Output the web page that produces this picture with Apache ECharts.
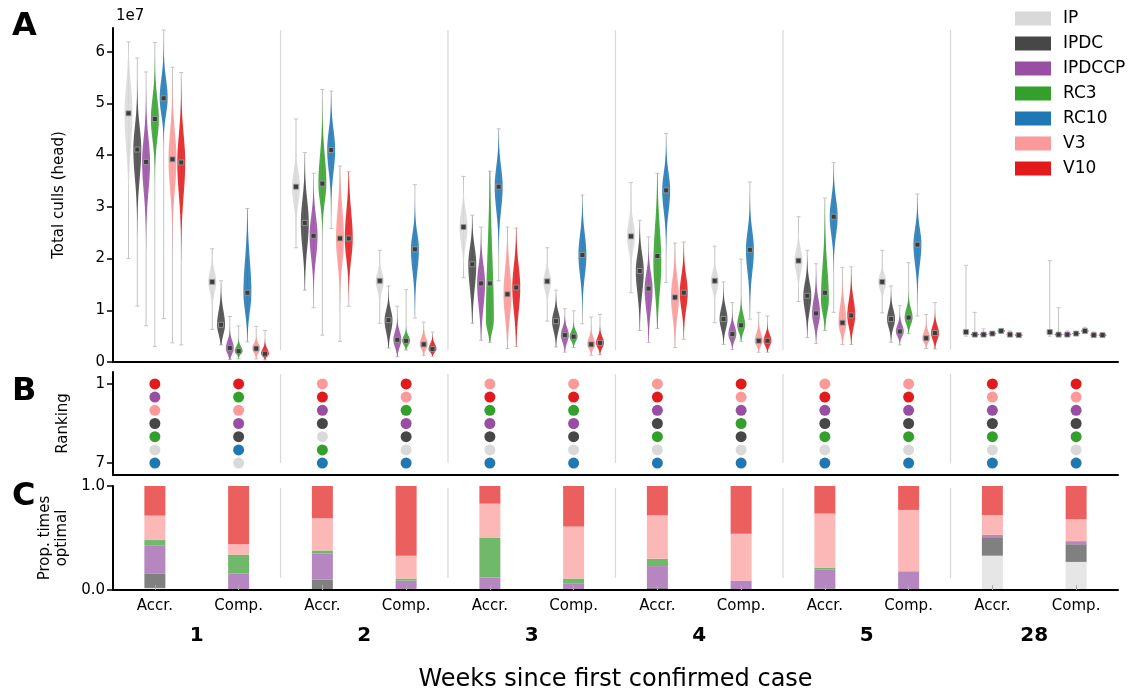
<!DOCTYPE html>
<html>
<head>
<meta charset="utf-8">
<script src="https://cdn.jsdelivr.net/npm/echarts@6/dist/echarts.min.js"></script>
<style>
  html, body { margin: 0; padding: 0; background: #fff; }
  #chart { width: 1134px; height: 694px; }
</style>
</head>
<body>
<div id="chart"></div>
<script>
// strategies, in legend / stacking order
const strategies = ['IP', 'IPDC', 'IPDCCP', 'RC3', 'RC10', 'V3', 'V10'];
const colors = ['#d9d9d9', '#474747', '#984ea3', '#33a02c', '#1f78b4', '#fb9a99', '#e31a1c'];
const barColors = ['#e6e6e6', '#808080', '#b586bf', '#70b96a', '#6aa3cf', '#fcb8b7', '#ec5f5f'];
const weeks = ['1', '2', '3', '4', '5', '28'];
const groups = ['Accr.', 'Comp.', 'Accr.', 'Comp.', 'Accr.', 'Comp.', 'Accr.', 'Comp.', 'Accr.', 'Comp.', 'Accr.', 'Comp.'];
const yTicksA = [0, 1, 2, 3, 4, 5, 6];
const separators = [1.5, 3.5, 5.5, 7.5, 9.5];

// A: total culls (x1e7), per group (wk1 Accr, wk1 Comp, wk2 Accr, ...)
// [low whisker, body low, median, body high, high whisker, (peak)]
const cullsIP = [
  [2.00, 3.50, 4.81, 5.90, 6.19], [0.63, 1.13, 1.55, 1.97, 2.19],
  [2.21, 2.74, 3.39, 3.97, 4.70], [0.75, 1.19, 1.57, 1.90, 2.16],
  [1.63, 1.97, 2.61, 3.20, 3.59], [0.79, 1.20, 1.56, 1.90, 2.21],
  [1.34, 1.90, 2.43, 3.00, 3.47], [0.76, 1.20, 1.57, 1.90, 2.24],
  [1.17, 1.50, 1.96, 2.40, 2.81], [0.95, 1.25, 1.55, 1.85, 2.16],
  [0.50, 0.53, 0.58, 0.65, 1.87], [0.50, 0.53, 0.58, 0.65, 1.96]
];
const cullsIPDC = [
  [1.08, 3.00, 4.11, 5.00, 5.88], [0.33, 0.35, 0.72, 1.26, 1.57],
  [1.39, 1.70, 2.69, 3.58, 4.05], [0.27, 0.35, 0.81, 1.20, 1.47],
  [0.75, 0.95, 1.89, 2.55, 2.84], [0.29, 0.40, 0.79, 1.15, 1.39],
  [0.61, 0.90, 1.76, 2.40, 2.74], [0.34, 0.45, 0.83, 1.25, 1.55],
  [0.47, 0.70, 1.28, 1.80, 2.16], [0.38, 0.50, 0.83, 1.20, 1.47],
  [0.51, 0.51, 0.53, 0.56, 0.96], [0.51, 0.51, 0.53, 0.56, 1.05]
];
const cullsIPDCCP = [
  [0.70, 2.74, 3.87, 4.81, 5.61], [0.05, 0.05, 0.27, 0.55, 0.88],
  [1.05, 1.58, 2.44, 3.20, 3.65], [0.10, 0.15, 0.43, 0.75, 1.08],
  [0.42, 0.61, 1.52, 2.23, 2.61], [0.19, 0.25, 0.52, 0.80, 1.03],
  [0.38, 0.60, 1.42, 2.00, 2.42], [0.24, 0.30, 0.54, 0.85, 1.15],
  [0.36, 0.50, 0.94, 1.50, 1.90], [0.33, 0.40, 0.59, 0.85, 1.09],
  [0.51, 0.51, 0.53, 0.56, 0.64], [0.51, 0.51, 0.53, 0.56, 0.60]
];
const cullsRC3 = [
  [0.30, 3.90, 4.70, 5.52, 6.18], [0.06, 0.10, 0.21, 0.39, 0.70],
  [0.52, 2.74, 3.45, 4.55, 5.27], [0.23, 0.25, 0.41, 0.60, 1.40],
  [0.38, 0.40, 1.52, 3.40, 3.69, 0.80], [0.28, 0.32, 0.49, 0.70, 0.99],
  [0.65, 0.80, 2.05, 3.30, 3.65, 1.90], [0.40, 0.45, 0.71, 1.10, 1.99],
  [0.61, 0.70, 1.34, 2.50, 3.17, 1.20], [0.55, 0.60, 0.86, 1.20, 1.92],
  [0.52, 0.52, 0.55, 0.57, 0.58], [0.52, 0.52, 0.55, 0.57, 0.58]
];
const cullsRC10 = [
  [0.84, 4.48, 5.10, 5.84, 6.42], [0.39, 0.61, 1.34, 2.61, 2.97],
  [2.58, 3.26, 4.10, 4.87, 5.24], [0.85, 1.32, 2.18, 2.80, 3.43],
  [1.57, 2.48, 3.39, 4.16, 4.51], [0.74, 1.26, 2.07, 2.87, 3.23],
  [1.54, 2.50, 3.32, 4.00, 4.42], [0.83, 1.30, 2.17, 2.90, 3.48],
  [0.96, 2.10, 2.81, 3.50, 3.86], [0.89, 1.50, 2.27, 2.90, 3.25],
  [0.56, 0.57, 0.60, 0.63, 0.65], [0.56, 0.57, 0.60, 0.64, 0.67]
];
const cullsV3 = [
  [0.37, 2.74, 3.92, 5.00, 5.70], [0.06, 0.10, 0.26, 0.45, 0.69],
  [0.40, 1.45, 2.39, 3.52, 3.79], [0.13, 0.15, 0.34, 0.60, 0.77],
  [0.26, 0.40, 1.31, 2.30, 2.61], [0.13, 0.17, 0.34, 0.60, 0.87],
  [0.28, 0.50, 1.25, 2.00, 2.30], [0.19, 0.22, 0.41, 0.70, 0.96],
  [0.34, 0.40, 0.76, 1.40, 1.83], [0.26, 0.30, 0.46, 0.70, 0.92],
  [0.50, 0.50, 0.53, 0.55, 0.60], [0.50, 0.50, 0.52, 0.55, 0.58]
];
const cullsV10 = [
  [0.33, 2.61, 3.86, 4.94, 5.60], [0.04, 0.06, 0.16, 0.35, 0.61],
  [1.08, 1.58, 2.39, 3.45, 3.68], [0.11, 0.13, 0.25, 0.45, 0.58],
  [0.30, 0.50, 1.44, 2.30, 2.59], [0.14, 0.18, 0.37, 0.60, 0.92],
  [0.44, 0.70, 1.34, 2.00, 2.32], [0.19, 0.22, 0.41, 0.65, 0.89],
  [0.34, 0.45, 0.90, 1.50, 1.84], [0.25, 0.30, 0.56, 0.85, 1.15],
  [0.50, 0.50, 0.52, 0.54, 0.56], [0.50, 0.50, 0.52, 0.54, 0.56]
];
const culls = [cullsIP, cullsIPDC, cullsIPDCCP, cullsRC3, cullsRC10, cullsV3, cullsV10];

// B: ranking (1 = best) per group
const rankIP     = [6, 7, 5, 6, 6, 6, 6, 6, 6, 6, 6, 6];
const rankIPDC   = [4, 5, 4, 5, 5, 5, 4, 5, 4, 4, 4, 4];
const rankIPDCCP = [2, 4, 3, 4, 4, 4, 3, 3, 3, 3, 3, 3];
const rankRC3    = [5, 2, 6, 3, 3, 3, 5, 4, 5, 5, 5, 5];
const rankRC10   = [7, 6, 7, 7, 7, 7, 7, 7, 7, 7, 7, 7];
const rankV3     = [3, 3, 1, 2, 1, 1, 1, 2, 1, 1, 2, 2];
const rankV10    = [1, 1, 2, 1, 2, 2, 2, 1, 2, 2, 1, 1];
const ranks = [rankIP, rankIPDC, rankIPDCCP, rankRC3, rankRC10, rankV3, rankV10];

// C: proportion of times optimal per group
const propIP     = [0.02, 0, 0, 0, 0, 0, 0, 0, 0, 0, 0.33, 0.27];
const propIPDC   = [0.14, 0, 0.10, 0.01, 0, 0, 0.02, 0, 0.015, 0, 0.17, 0.17];
const propIPDCCP = [0.27, 0.16, 0.25, 0.08, 0.12, 0.06, 0.21, 0.09, 0.18, 0.18, 0.03, 0.03];
const propRC3    = [0.05, 0.18, 0.03, 0.02, 0.38, 0.05, 0.07, 0, 0.02, 0, 0, 0];
const propRC10   = [0.005, 0, 0, 0, 0, 0, 0, 0, 0, 0, 0, 0];
const propV3     = [0.23, 0.10, 0.31, 0.22, 0.33, 0.50, 0.42, 0.45, 0.52, 0.59, 0.19, 0.21];
const propV10    = [0.285, 0.56, 0.31, 0.67, 0.17, 0.39, 0.28, 0.46, 0.265, 0.23, 0.28, 0.32];
const props = [propIP, propIPDC, propIPDCCP, propRC3, propRC10, propV3, propV10];

const violinStep = 0.105;
const violinWidth = 0.095;
const font = 'DejaVu Sans';

const chart = echarts.init(document.getElementById('chart'));

function violinItem(k) {
  return function (params, api) {
    const x = api.value(0) + (k - 3) * violinStep;
    const lo = api.value(1), bLo = api.value(2), med = api.value(3);
    const bHi = api.value(4), hi = api.value(5), pk = api.value(6);
    const sLo = Math.max((pk - bLo) / 2, 0.02);
    const sHi = Math.max((bHi - pk) / 2, 0.02);
    const from = Math.max(lo, pk - 3 * sLo);
    const to = Math.min(hi, pk + 3 * sHi);
    const half = api.size([violinWidth, 0])[0] / 2;
    const left = [], right = [];
    for (let i = 0; i <= 48; i++) {
      const v = from + (to - from) * i / 48;
      const s = v < pk ? sLo : sHi;
      const w = half * Math.exp(-0.5 * Math.pow((v - pk) / s, 2));
      const p = api.coord([x, v]);
      left.push([p[0] - w, p[1]]);
      right.unshift([p[0] + w, p[1]]);
    }
    const top = api.coord([x, hi]), bot = api.coord([x, lo]), mid = api.coord([x, med]);
    const wStyle = { stroke: '#c4c4c4', lineWidth: 1 };
    return {
      type: 'group',
      children: [
        { type: 'line', shape: { x1: top[0], y1: top[1], x2: bot[0], y2: bot[1] }, style: wStyle },
        { type: 'line', shape: { x1: top[0] - 2, y1: top[1], x2: top[0] + 2, y2: top[1] }, style: wStyle },
        { type: 'line', shape: { x1: bot[0] - 2, y1: bot[1], x2: bot[0] + 2, y2: bot[1] }, style: wStyle },
        { type: 'polygon', shape: { points: left.concat(right) }, style: { fill: colors[k], opacity: 0.88 } },
        { type: 'rect', shape: { x: mid[0] - 2.5, y: mid[1] - 2.5, width: 5, height: 5 },
          style: { fill: '#3c3c3c', stroke: '#a0a0a0', lineWidth: 0.8 } }
      ]
    };
  };
}

// separator halfway between two neighbouring groups (works on value and category axes)
function separatorItem(params, api) {
  const cs = params.coordSys;
  const v = api.value(0);
  const x = (api.coord([Math.floor(v), 0])[0] + api.coord([Math.ceil(v), 0])[0]) / 2;
  return {
    type: 'line',
    shape: { x1: x, y1: cs.y + 2, x2: x, y2: cs.y + cs.height - 12 },
    style: { stroke: '#d8d8d8', lineWidth: 1.2 }
  };
}

const series = [];
[0, 1, 2].forEach(g => {
  series.push({
    type: 'custom', name: 'sep' + g, xAxisIndex: g, yAxisIndex: g, silent: true, z: 1,
    renderItem: separatorItem, data: separators.map(s => [s])
  });
});
strategies.forEach((name, k) => {
  series.push({
    type: 'custom', name: name, xAxisIndex: 0, yAxisIndex: 0,
    itemStyle: { color: colors[k] },
    renderItem: violinItem(k),
    data: culls[k].map((c, i) => [i, c[0], c[1], c[2], c[3], c[4], c.length > 5 ? c[5] : c[2]])
  });
});
strategies.forEach((name, k) => {
  series.push({
    type: 'scatter', name: name, xAxisIndex: 1, yAxisIndex: 1,
    symbolSize: 11, itemStyle: { color: colors[k], opacity: 1 },
    data: ranks[k].map((r, i) => [i, r])
  });
});
strategies.forEach((name, k) => {
  series.push({
    type: 'bar', name: name, xAxisIndex: 2, yAxisIndex: 2, stack: 'opt',
    barWidth: 21, itemStyle: { color: barColors[k] },
    data: props[k]
  });
});

const spine = { show: true, onZero: false, lineStyle: { color: '#000', width: 2 } };
const baseX = { type: 'value', min: -0.5, max: 11.5, axisLine: spine,
  axisTick: { show: false }, axisLabel: { show: false }, splitLine: { show: false } };

chart.setOption({
  animation: false,
  textStyle: { fontFamily: font, color: '#000' },
  grid: [
    { left: 113, top: 28, width: 1005, height: 334 },
    { left: 113, top: 372, width: 1005, height: 103 },
    { left: 113, top: 486, width: 1005, height: 104 }
  ],
  legend: {
    orient: 'vertical', left: 1010, top: 5, itemWidth: 36, itemHeight: 14, itemGap: 8,
    icon: 'rect', textStyle: { fontSize: 17, fontFamily: font, color: '#000', padding: [0, 0, 0, 7] },
    data: strategies.map((s, k) => ({ name: s, itemStyle: { color: colors[k] } }))
  },
  xAxis: [
    Object.assign({ gridIndex: 0 }, baseX),
    Object.assign({ gridIndex: 1 }, baseX),
    {
      type: 'category', gridIndex: 2, data: groups, boundaryGap: true, z: 5,
      axisLine: spine, splitLine: { show: false },
      axisTick: { show: true, inside: true, length: 5, alignWithLabel: true,
        lineStyle: { color: '#aaa', width: 1 } },
      axisLabel: { fontSize: 15, color: '#000', margin: 9, interval: 0 }
    },
    {
      type: 'value', gridIndex: 2, min: -0.5, max: 11.5, position: 'bottom',
      axisLine: { show: false }, axisTick: { show: false }, splitLine: { show: false },
      axisLabel: { fontSize: 20, fontWeight: 'bold', color: '#000', margin: 36,
        customValues: [0.5, 2.5, 4.5, 6.5, 8.5, 10.5],
        formatter: v => weeks[Math.round((v - 0.5) / 2)] },
      name: 'Weeks since first confirmed case', nameLocation: 'middle', nameGap: 78,
      nameTextStyle: { fontSize: 24, color: '#000' }
    }
  ],
  yAxis: [
    {
      type: 'value', gridIndex: 0, min: 0, max: 6.46, axisLine: spine, splitLine: { show: false },
      axisTick: { show: true, length: 6, customValues: yTicksA, lineStyle: { color: '#000', width: 1.5 } },
      axisLabel: { fontSize: 15, color: '#000', margin: 8, customValues: yTicksA },
      name: 'Total culls (head)', nameLocation: 'middle', nameGap: 46,
      nameTextStyle: { fontSize: 15, color: '#000' }
    },
    {
      type: 'value', gridIndex: 1, min: 0.1, max: 7.9, inverse: true, axisLine: spine,
      splitLine: { show: false },
      axisTick: { show: true, length: 6, customValues: [1, 7], lineStyle: { color: '#000', width: 1.5 } },
      axisLabel: { fontSize: 15, color: '#000', margin: 8, customValues: [1, 7] },
      name: 'Ranking', nameLocation: 'middle', nameGap: 42,
      nameTextStyle: { fontSize: 15, color: '#000' }
    },
    {
      type: 'value', gridIndex: 2, min: 0, max: 1, axisLine: spine, splitLine: { show: false },
      axisTick: { show: true, length: 6, customValues: [0, 1], lineStyle: { color: '#000', width: 1.5 } },
      axisLabel: { fontSize: 15, color: '#000', margin: 8, customValues: [0, 1],
        formatter: v => v.toFixed(1) },
      name: 'Prop. times\noptimal', nameLocation: 'middle', nameGap: 42,
      nameTextStyle: { fontSize: 15, color: '#000', lineHeight: 17 }
    }
  ],
  graphic: [
    { type: 'text', left: 12, top: 11, style: { text: 'A', font: 'bold 32px "DejaVu Sans"', fill: '#000' } },
    { type: 'text', left: 12, top: 376, style: { text: 'B', font: 'bold 32px "DejaVu Sans"', fill: '#000' } },
    { type: 'text', left: 12, top: 481, style: { text: 'C', font: 'bold 32px "DejaVu Sans"', fill: '#000' } },
    { type: 'text', left: 116, top: 9, style: { text: '1e7', font: '15px "DejaVu Sans"', fill: '#000' } }
  ],
  series: series
});
</script>
</body>
</html>
